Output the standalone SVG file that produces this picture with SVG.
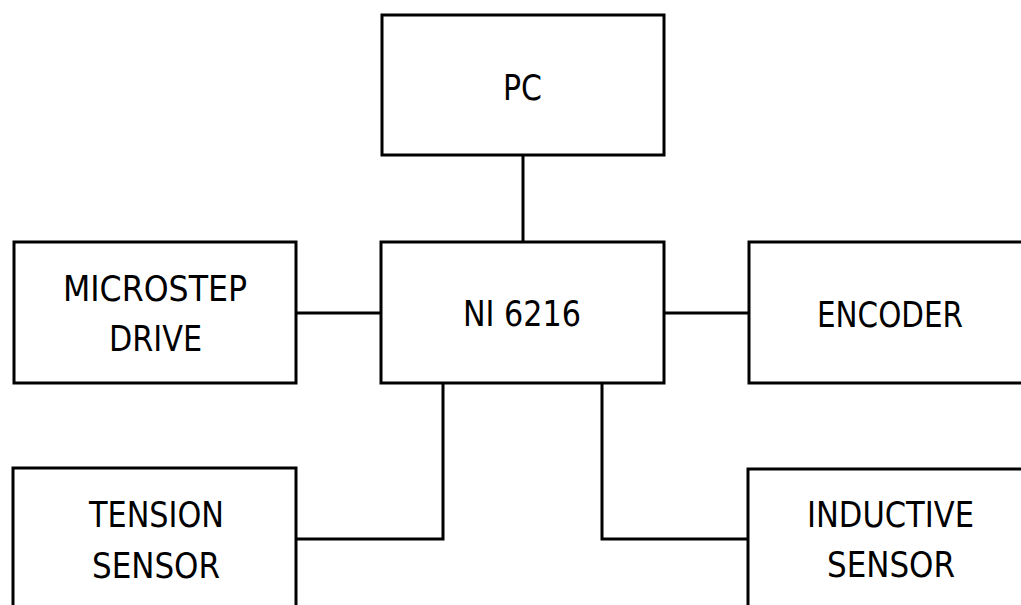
<svg xmlns="http://www.w3.org/2000/svg" width="1021" height="605" viewBox="0 0 1021 605">
<style>
.box{fill:#fff;stroke:#000;stroke-width:3}
.wire{fill:none;stroke:#000;stroke-width:3}
text{font-family:"DejaVu Sans Condensed","DejaVu Sans",sans-serif;font-size:36px;fill:#000;text-anchor:middle}
</style>
<rect width="1021" height="605" fill="#fff"/>
<g id="connectors">
<line class="wire" x1="523" y1="155" x2="523" y2="242"/>
<line class="wire" x1="296" y1="313" x2="381" y2="313"/>
<line class="wire" x1="664" y1="313" x2="749" y2="313"/>
<polyline class="wire" points="443,383 443,539 296,539"/>
<polyline class="wire" points="602,383 602,539 748,539"/>
</g>
<g id="pc"><rect class="box" x="382" y="15" width="282" height="140"/><text x="522.5" y="100" textLength="39" lengthAdjust="spacingAndGlyphs">PC</text></g>
<g id="ni6216"><rect class="box" x="381" y="242" width="283" height="141"/><text x="522" y="326" textLength="118" lengthAdjust="spacingAndGlyphs">NI 6216</text></g>
<g id="microstep"><rect class="box" x="14" y="242" width="282" height="141"/><text x="155" y="300.5" textLength="184" lengthAdjust="spacingAndGlyphs">MICROSTEP</text><text x="155.5" y="350.5" textLength="93" lengthAdjust="spacingAndGlyphs">DRIVE</text></g>
<g id="encoder"><rect class="box" x="749" y="242" width="290" height="141"/><text x="890" y="326.5" textLength="146" lengthAdjust="spacingAndGlyphs">ENCODER</text></g>
<g id="tension"><rect class="box" x="13" y="468" width="283" height="160"/><text x="156.5" y="527" textLength="135" lengthAdjust="spacingAndGlyphs">TENSION</text><text x="156" y="577.5" textLength="128" lengthAdjust="spacingAndGlyphs">SENSOR</text></g>
<g id="inductive"><rect class="box" x="748" y="469" width="290" height="160"/><text x="890.5" y="526.5" textLength="167" lengthAdjust="spacingAndGlyphs">INDUCTIVE</text><text x="891" y="577" textLength="128" lengthAdjust="spacingAndGlyphs">SENSOR</text></g>
</svg>
